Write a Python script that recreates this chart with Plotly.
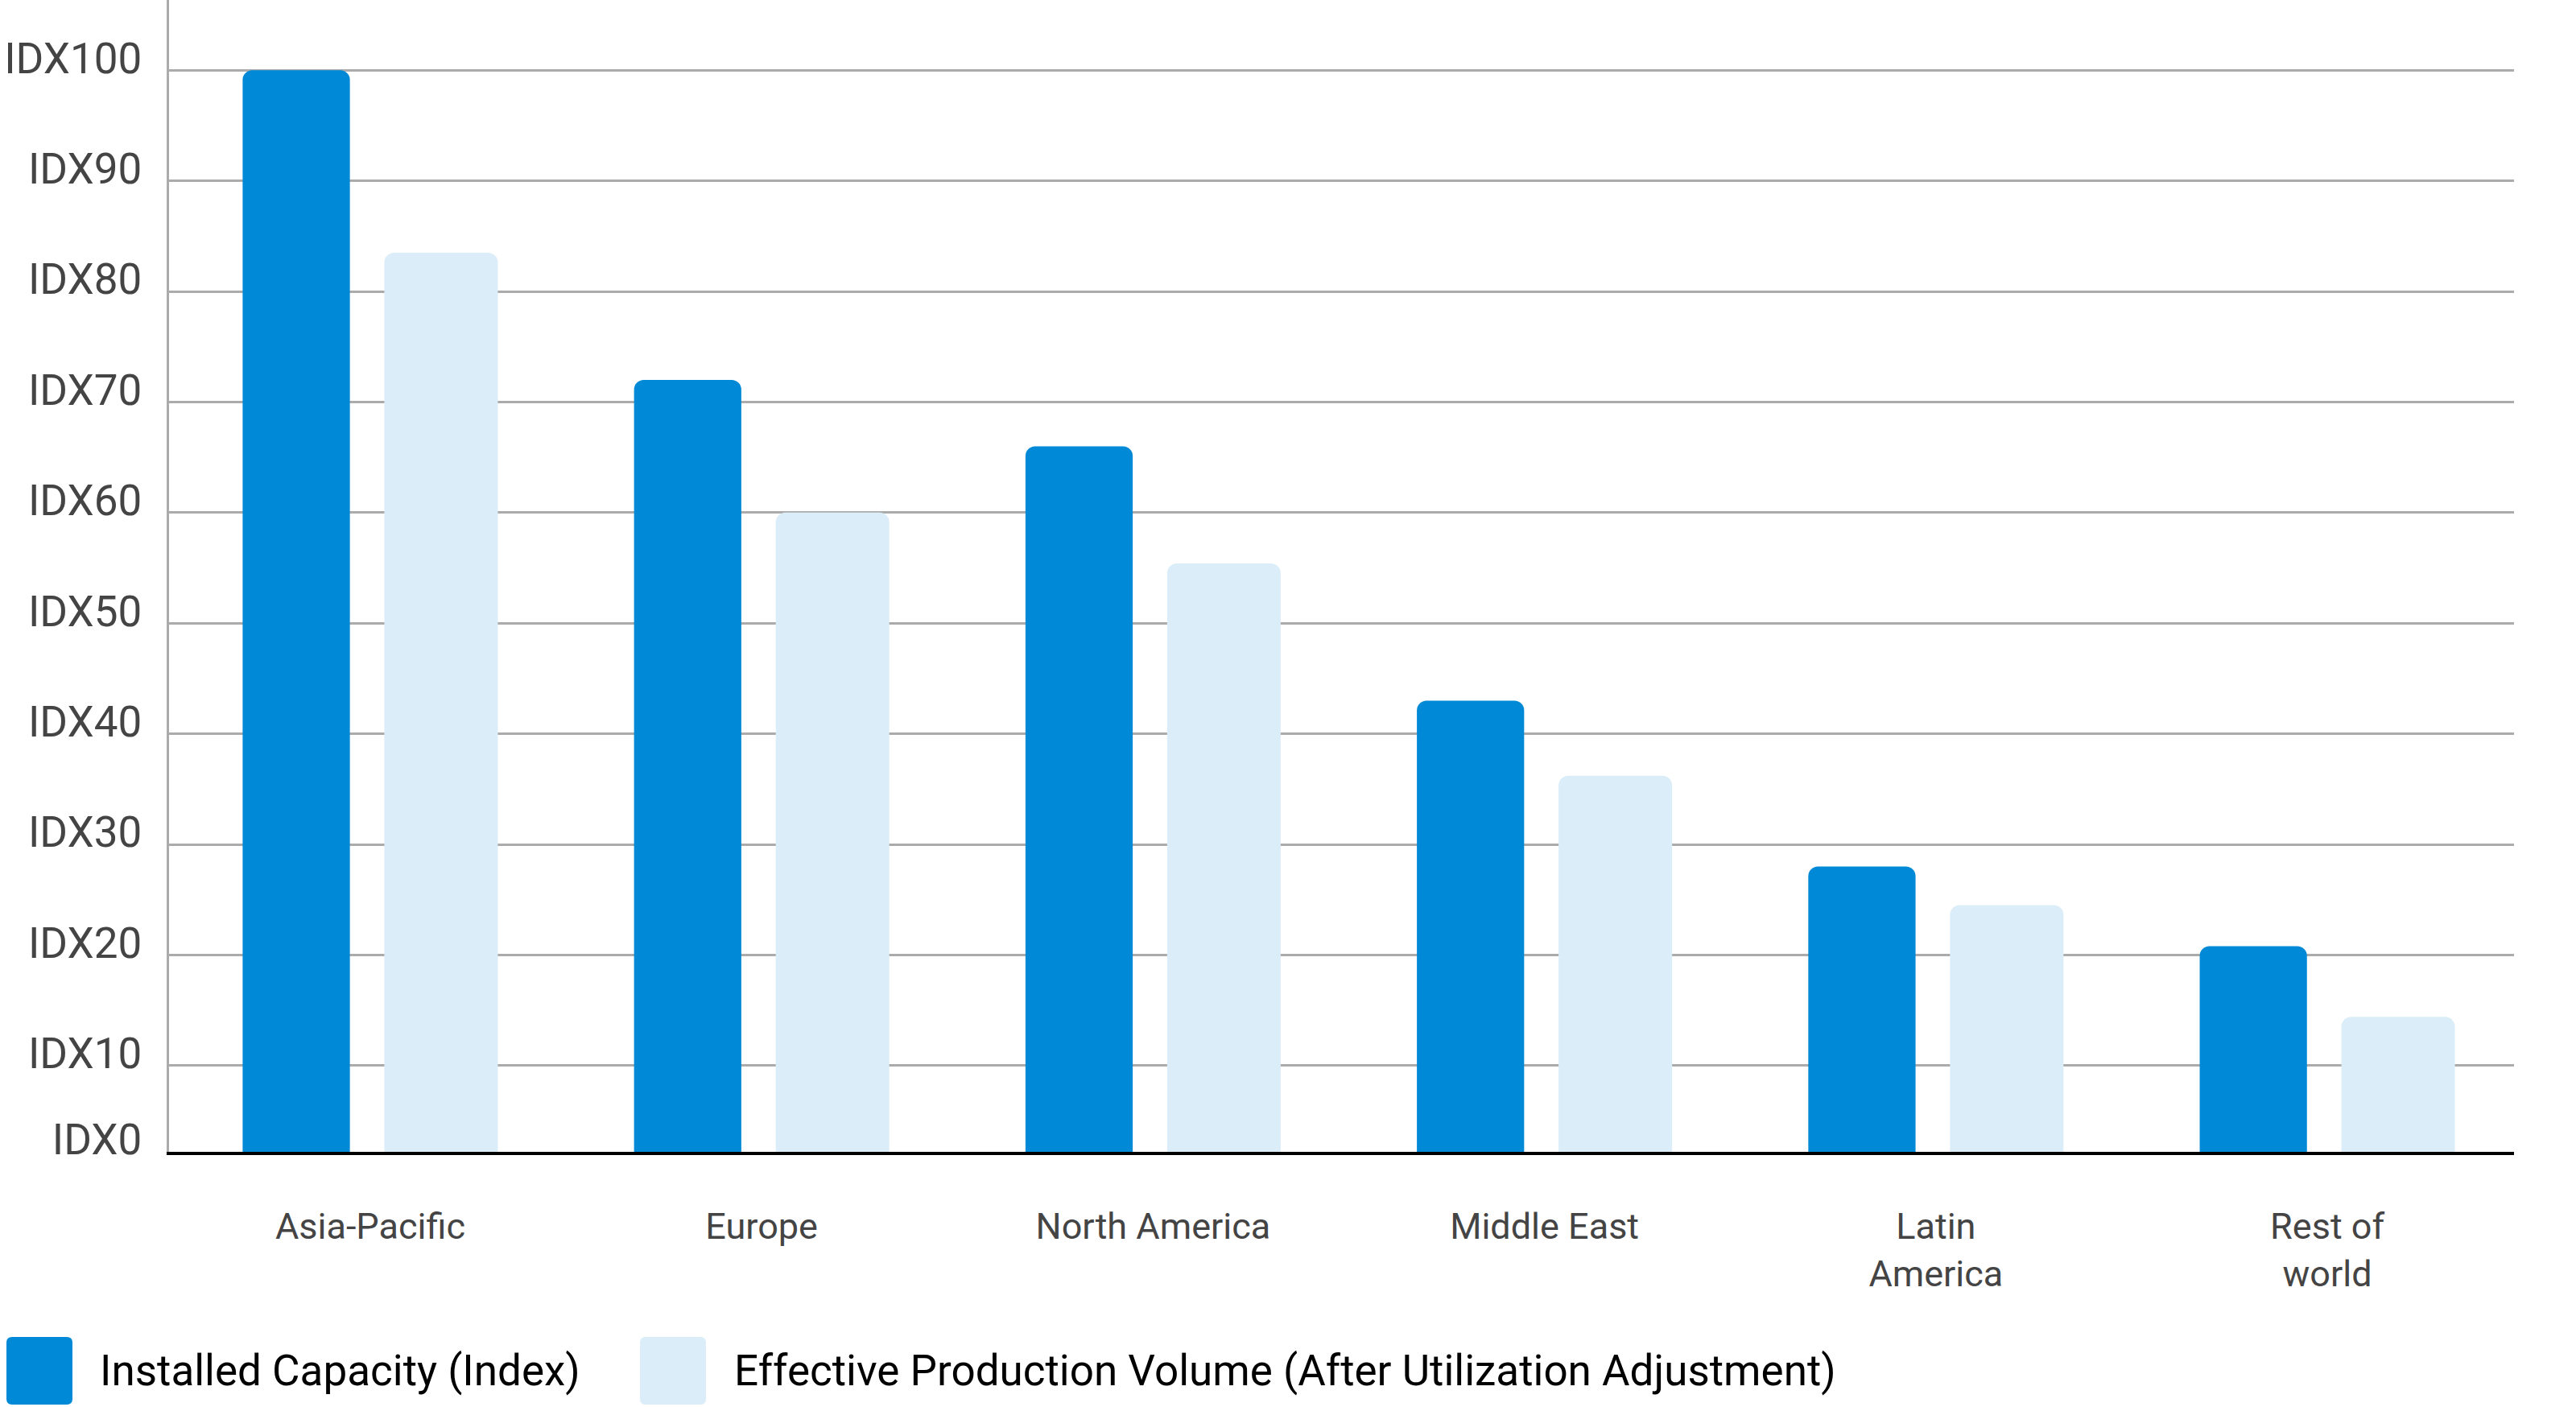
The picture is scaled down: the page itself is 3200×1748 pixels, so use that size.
import plotly.graph_objects as go

# ---------------- data ----------------
categories = ["Asia-Pacific", "Europe", "North America", "Middle East",
              "Latin<br>America", "Rest of<br>world"]
installed_capacity = [100, 72, 66, 43, 28, 20.8]
effective_production = [83.5, 60, 55.4, 36.2, 24.5, 14.4]
series_names = ["Installed Capacity (Index)",
                "Effective Production Volume (After Utilization Adjustment)"]
y_tick_values = [0, 10, 20, 30, 40, 50, 60, 70, 80, 90, 100]
y_tick_labels = ["IDX0", "IDX10", "IDX20", "IDX30", "IDX40", "IDX50",
                 "IDX60", "IDX70", "IDX80", "IDX90", "IDX100"]

# ---------------- style / layout ----------------
W, H = 3200, 1748
ML, MR, MT, MB = 210, 77, 0, 317
PW, PH = W - ML - MR, H - MT - MB
BLUE = "#0089D6"
LIGHT = "#DAEDF8"
GRID = "#ABABAB"
TXT = "#444444"
FONT = "Roboto"
Y_MIN, Y_MAX = 2.2, 106.35
LABEL_SHIFT = 1.1

fig = go.Figure()
fig.add_trace(go.Bar(x=categories, y=installed_capacity, name=series_names[0],
                     marker=dict(color=BLUE, cornerradius=12, line=dict(width=0)),
                     offset=-0.326, width=0.274, showlegend=False, hoverinfo="skip"))
fig.add_trace(go.Bar(x=categories, y=effective_production, name=series_names[1],
                     marker=dict(color=LIGHT, cornerradius=12, line=dict(width=0)),
                     offset=0.036, width=0.29, showlegend=False, hoverinfo="skip"))

label_pos = [max(v, Y_MIN) + LABEL_SHIFT for v in y_tick_values]

fig.update_layout(
    width=W, height=H,
    margin=dict(l=ML, r=MR, t=MT, b=MB, pad=0),
    paper_bgcolor="white", plot_bgcolor="white",
    barmode="overlay",
    font=dict(family=FONT, color=TXT),
    xaxis=dict(range=[-0.514, 5.477], showgrid=False, showline=True,
               linecolor="black", linewidth=4, ticks="",
               tickfont=dict(family=FONT, size=45, color=TXT),
               ticklabelstandoff=50, zeroline=False, fixedrange=True),
    yaxis=dict(range=[Y_MIN, Y_MAX], tickmode="array", tickvals=label_pos,
               ticktext=y_tick_labels, showgrid=False, showline=True,
               linecolor=GRID, linewidth=3, ticks="", zeroline=False,
               tickfont=dict(family=FONT, size=53, color=TXT),
               ticklabelstandoff=20,
               minor=dict(tickmode="array",
                          tickvals=[v for v in y_tick_values if v > Y_MIN],
                          showgrid=True, gridcolor=GRID, gridwidth=3, ticks=""),
               fixedrange=True),
    showlegend=False,
)

# ---------------- custom legend ----------------
def px_x(px):
    return (px - ML) / PW

def px_y(py):
    return (MT + PH - py) / PH

legend_swatch_cx = [49, 836]
legend_text_x = [122, 910]
legend_cy = 1703
sw, sh, r = 41, 42, 7
swatch_path = (f"M {-sw + r},{-sh} L {sw - r},{-sh} Q {sw},{-sh} {sw},{-sh + r} "
               f"L {sw},{sh - r} Q {sw},{sh} {sw - r},{sh} L {-sw + r},{sh} "
               f"Q {-sw},{sh} {-sw},{sh - r} L {-sw},{-sh + r} Q {-sw},{-sh} {-sw + r},{-sh} Z")
for name, color, cx, tx in zip(series_names, [BLUE, LIGHT], legend_swatch_cx, legend_text_x):
    fig.add_shape(type="path", xref="paper", yref="paper",
                  xsizemode="pixel", ysizemode="pixel",
                  xanchor=px_x(cx), yanchor=px_y(legend_cy),
                  path=swatch_path, fillcolor=color, line=dict(width=0))
    fig.add_annotation(text=name, xref="paper", yref="paper",
                       x=px_x(tx), y=px_y(legend_cy), xanchor="left", yanchor="middle",
                       showarrow=False, font=dict(family=FONT, size=53, color="black"))

fig.write_html("out.html")
